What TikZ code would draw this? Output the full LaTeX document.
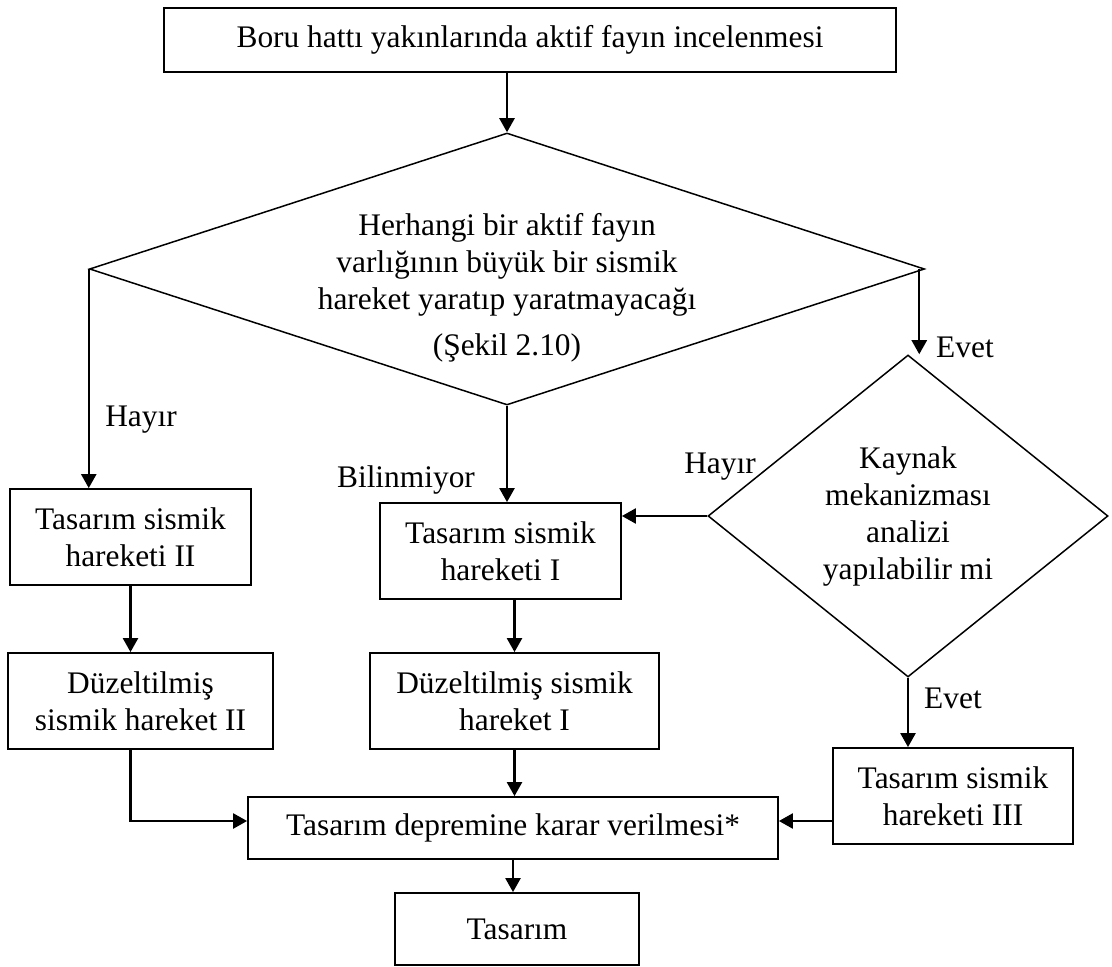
\documentclass[tikz,border=0pt]{standalone}
\usepackage{fontspec}
\setmainfont{Liberation Serif}
\usetikzlibrary{arrows.meta,positioning,calc,shapes.geometric}
\tikzset{
  flowbox/.style={draw, line width=0.9pt, inner sep=0pt, align=center,
    font=\fontsize{15.7pt}{18.5pt}\selectfont},
  decide/.style={diamond, draw, line width=0.75pt, inner sep=0pt, align=center,
    font=\fontsize{15.7pt}{18.5pt}\selectfont},
  answer/.style={inner sep=0pt, align=center, font=\fontsize{15.7pt}{18.5pt}\selectfont},
  flow/.style={-{Triangle[length=7pt,width=7.5pt]}, line width=1.2pt},
}

\begin{document}
\begin{tikzpicture}[x=0.5pt,y=-0.5pt]
  \useasboundingbox (0,0) rectangle (1112,967);
  % steps and questions
  \node[flowbox, minimum width=366pt, minimum height=32pt] (survey) at (530,40)
    {Boru hattı yakınlarında aktif fayın incelenmesi};
  \node[decide, minimum width=417.5pt, minimum height=136pt] (faultq) at (507,269) {};
  \node[answer] (faultqtext) at (507,288)
    {Herhangi bir aktif fayın\\ varlığının büyük bir sismik\\ hareket yaratıp yaratmayacağı\\[4.5pt] (Şekil 2.10)};
  \node[decide, minimum width=200pt, minimum height=161pt] (sourceq) at (908,516)
    {Kaynak\\ mekanizması\\ analizi\\ yapılabilir mi};
  \node[flowbox, minimum width=120.5pt, minimum height=48pt] (motiontwo) at (130.5,537)
    {Tasarım sismik\\ hareketi II};
  \node[flowbox, minimum width=132.5pt, minimum height=48pt] (fixtwo) at (140.5,701)
    {Düzeltilmiş\\ sismik hareket II};
  \node[flowbox, minimum width=120.5pt, minimum height=48pt] (motionone) at (500.5,551)
    {Tasarım sismik\\ hareketi I};
  \node[flowbox, minimum width=144.5pt, minimum height=48pt] (fixone) at (514.5,701)
    {Düzeltilmiş sismik\\ hareket I};
  \node[flowbox, minimum width=120pt, minimum height=48pt] (motionthree) at (953,796)
    {Tasarım sismik\\ hareketi III};
  \node[flowbox, minimum width=265pt, minimum height=31pt] (choose) at (513,828)
    {Tasarım depremine karar verilmesi*};
  \node[flowbox, minimum width=122pt, minimum height=36pt] (design) at (517,929)
    {Tasarım};

  % answers
  \node[answer] (nofault) at (141,420) {Hayır};
  \node[answer] (unknown) at (406,480) {Bilinmiyor};
  \node[answer] (yesfault) at (965,347) {Evet};
  \node[answer] (nosource) at (720,467) {Hayır};
  \node[answer] (yessource) at (953,698) {Evet};

  % connectors
  \coordinate (chooseL) at ([yshift=3.5pt]choose.west);
  \coordinate (chooseR) at ([yshift=3.5pt]choose.east);
  \draw[flow] (survey.south -| faultq.north) -- (faultq.north);
  \draw[flow] (faultq.west) -- (faultq.west |- motiontwo.north);
  \draw[flow] (faultq.south) -- (faultq.south |- motionone.north);
  \draw[flow] ([xshift=-3pt]faultq.east) -- ([xshift=-3pt]faultq.east |- sourceq.north);
  \draw[flow] (sourceq.west) -- (sourceq.west -| motionone.east);
  \draw[flow] (sourceq.south) -- (sourceq.south |- motionthree.north);
  \draw[flow] (motiontwo.south) -- (motiontwo.south |- fixtwo.north);
  \draw[flow] (motiontwo.south |- fixtwo.south) |- (chooseL);
  \draw[flow] (fixone.north |- motionone.south) -- (fixone.north);
  \draw[flow] (fixone.south) -- (fixone.south |- choose.north);
  \draw[flow] (chooseR -| motionthree.west) -- (chooseR);
  \draw[flow] (choose.south) -- (choose.south |- design.north);
\end{tikzpicture}
\end{document}
